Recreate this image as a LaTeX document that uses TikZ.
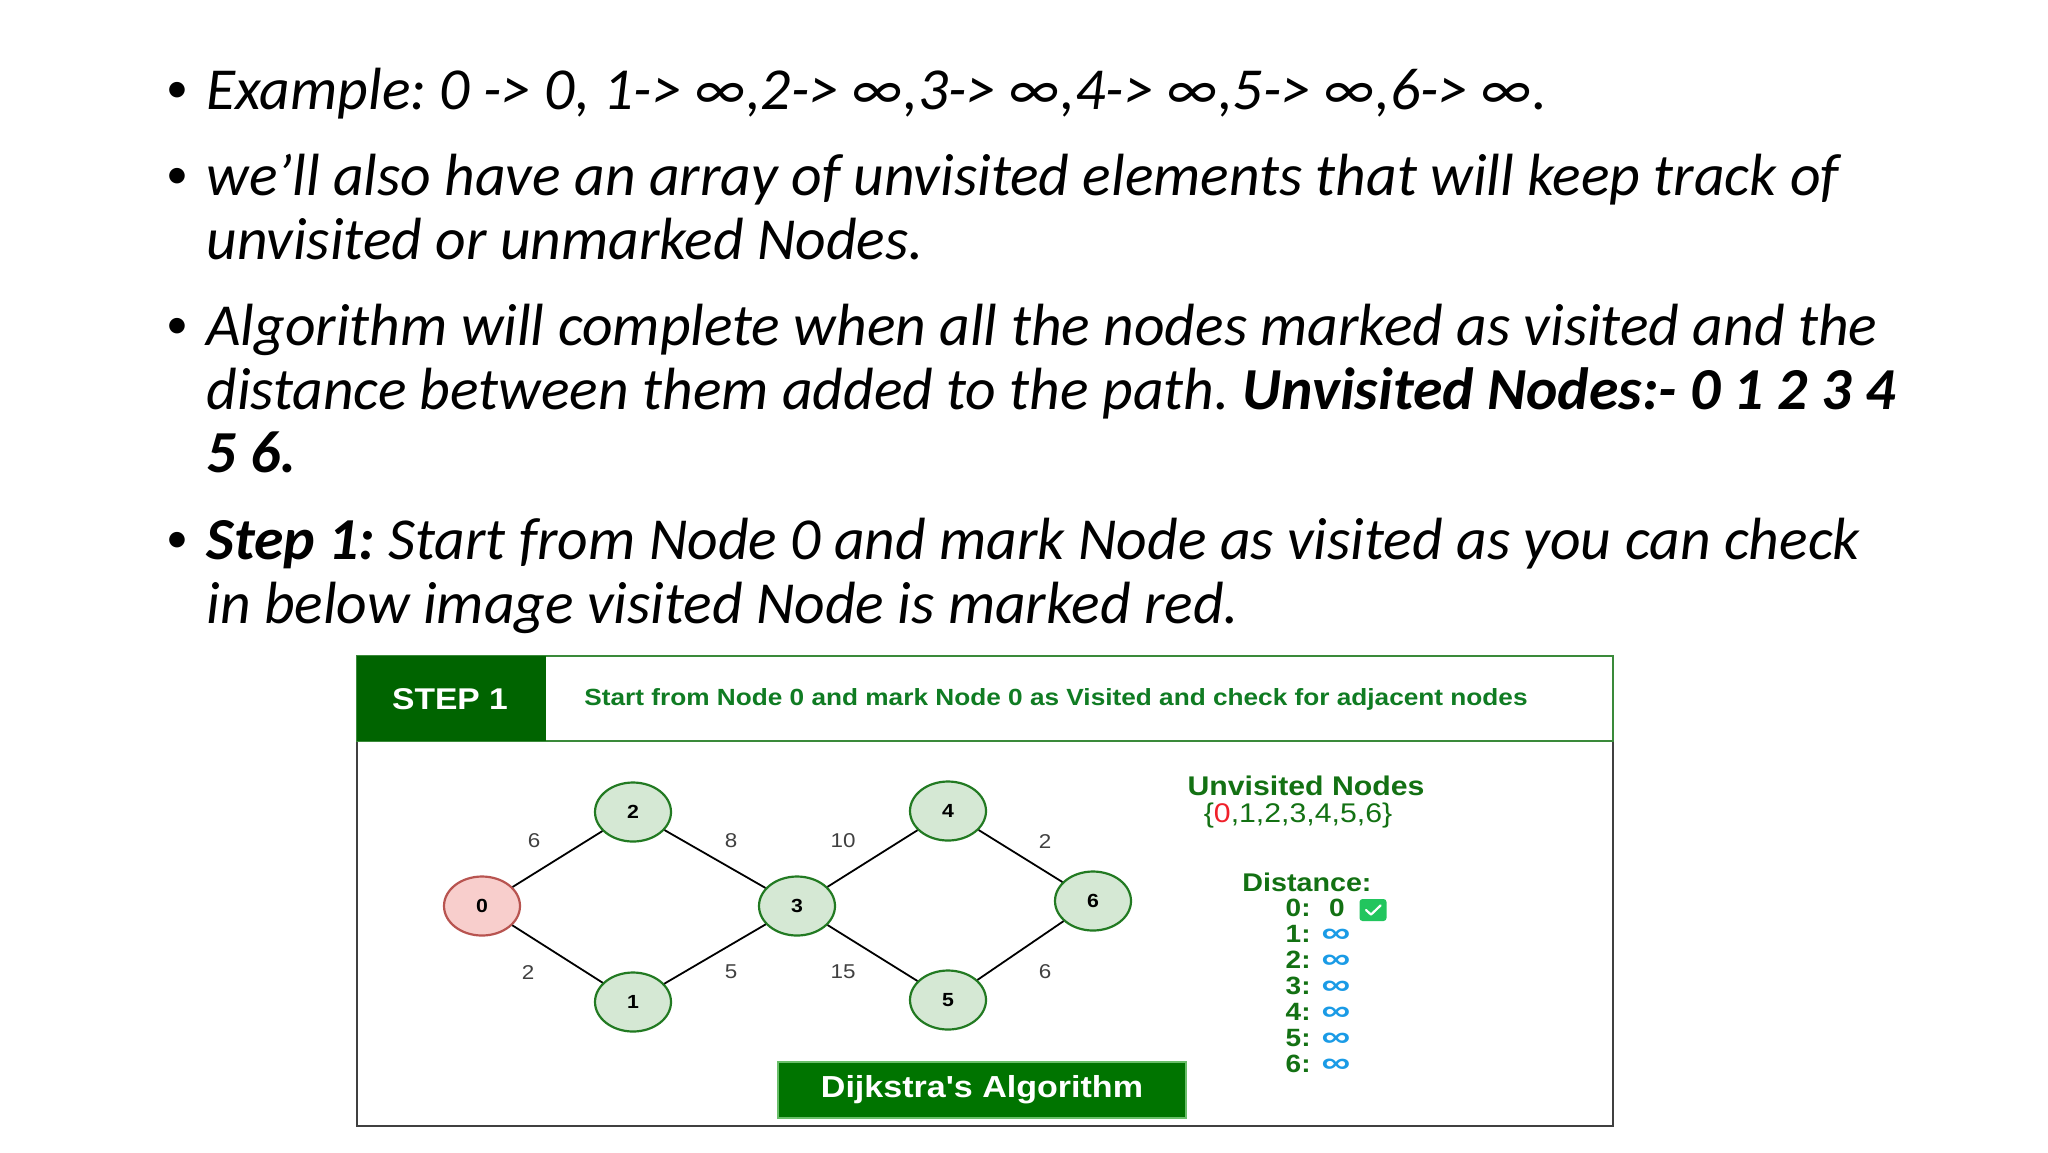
\documentclass[tikz,border=0pt]{standalone}
\usepackage{fontspec}
\usepackage{graphicx}
\setmainfont{Carlito}
\newfontfamily\arialf{Liberation Sans}
\usetikzlibrary{shapes.geometric}
\definecolor{hdrgreen}{HTML}{006400}
\definecolor{hdrtext}{HTML}{107C23}
\definecolor{hdrline}{HTML}{3A8A3A}
\definecolor{unvgreen}{HTML}{137113}
\definecolor{nodefill}{HTML}{D5E8D4}
\definecolor{nodeline}{HTML}{227A22}
\definecolor{redfill}{HTML}{F8CECC}
\definecolor{redline}{HTML}{B85450}
\definecolor{dijfill}{HTML}{007400}
\definecolor{dijline}{HTML}{6ABF6A}
\definecolor{checkgreen}{HTML}{22C55E}
\definecolor{infblue}{HTML}{1A9BE6}
\definecolor{lblgray}{HTML}{404040}
\definecolor{redtxt}{HTML}{F0202A}
\newcommand{\wtxt}[1]{\scalebox{1.12}[1]{#1}}
\frenchspacing
\begin{document}
\begin{tikzpicture}[x=0.5pt,y=-0.5pt,
  bodytext/.style={anchor=base west, inner sep=0pt, font=\fontsize{29.8}{34}\selectfont\itshape},
  bulletmark/.style={anchor=base, inner sep=0pt, font=\fontsize{22}{26}\selectfont},
  gnode/.style={ellipse, draw=nodeline, fill=nodefill, line width=1.1pt, minimum width=38pt, minimum height=29.5pt, inner sep=0pt, font=\arialf\bfseries\fontsize{9.5}{11}\selectfont},
  rnode/.style={gnode, draw=redline, fill=redfill},
  edgelbl/.style={inner sep=0pt, text=lblgray, font=\arialf\fontsize{10}{12}\selectfont},
  edge/.style={line width=0.9pt, black},
  distlbl/.style={anchor=base east, inner sep=0pt, text=unvgreen, font=\arialf\bfseries\fontsize{12.5}{14}\selectfont},
  distval/.style={anchor=base, inner sep=0pt, text=infblue, font=\arialf\bfseries\fontsize{13}{14}\selectfont}
]
\useasboundingbox (0,0) rectangle (2048,1152);
\fill[white] (0,0) rectangle (2048,1152);

% bullets
\node[bulletmark] (b1) at (177,102) {•};
\node[bulletmark] (b2) at (177,188) {•};
\node[bulletmark] (b3) at (177,338) {•};
\node[bulletmark] (b4) at (177,552) {•};

\node[bodytext] (l1) at (206,109) {Example: 0 -> 0, 1-> ∞,2-> ∞,3-> ∞,4-> ∞,5-> ∞,6-> ∞.};
\node[bodytext] (l2) at (206,195) {we’ll also have an array of unvisited elements that will keep track of};
\node[bodytext] (l3) at (206,259) {unvisited or unmarked Nodes.};
\node[bodytext] (l4) at (206,345) {Algorithm will complete when all the nodes marked as visited and the};
\node[bodytext] (l5) at (206,409) {distance between them added to the path. \textbf{Unvisited Nodes:- 0 1 2 3 4}};
\node[bodytext] (l6) at (206,472) {\textbf{5 6.}};
\node[bodytext] (l7) at (206,559) {\textbf{Step 1:} Start from Node 0 and mark Node as visited as you can check};
\node[bodytext] (l8) at (206,623) {in below image visited Node is marked red.};

% diagram frame
\draw[line width=1pt, black!75] (357,741) rectangle (1613,1126);
\draw[line width=1.2pt, hdrline] (357,656) rectangle (1613,741);
\fill[hdrgreen] (357,656) rectangle (546,741);
\node[text=white, font=\arialf\bfseries\fontsize{15}{17}\selectfont, inner sep=0pt] (step) at (450,699) {\wtxt{STEP 1}};
\node[anchor=west, text=hdrtext, font=\arialf\bfseries\fontsize{11.7}{14}\selectfont, inner sep=0pt] (hdr) at (584,699) {\wtxt{Start from Node 0 and mark Node 0 as Visited and check for adjacent nodes}};

% graph
\node[rnode] (n0) at (482,906) {\wtxt{0}};
\node[gnode] (n2) at (633,812) {\wtxt{2}};
\node[gnode] (n1) at (633,1002) {\wtxt{1}};
\node[gnode] (n3) at (797,906) {\wtxt{3}};
\node[gnode] (n4) at (948,811) {\wtxt{4}};
\node[gnode] (n5) at (948,1000) {\wtxt{5}};
\node[gnode] (n6) at (1093,901) {\wtxt{6}};

\draw[edge] (n0) -- (n2);
\draw[edge] (n0) -- (n1);
\draw[edge] (n2) -- (n3);
\draw[edge] (n1) -- (n3);
\draw[edge] (n3) -- (n4);
\draw[edge] (n3) -- (n5);
\draw[edge] (n4) -- (n6);
\draw[edge] (n5) -- (n6);

\node[edgelbl] (w02) at (534,841) {\wtxt{6}};
\node[edgelbl] (w23) at (731,841) {\wtxt{8}};
\node[edgelbl] (w34) at (843,841) {\wtxt{10}};
\node[edgelbl] (w46) at (1045,841) {\wtxt{2}};
\node[edgelbl] (w01) at (528,972) {\wtxt{2}};
\node[edgelbl] (w13) at (731,972) {\wtxt{5}};
\node[edgelbl] (w35) at (843,972) {\wtxt{15}};
\node[edgelbl] (w56) at (1045,972) {\wtxt{6}};

% unvisited
\node[text=unvgreen, font=\arialf\bfseries\fontsize{13.5}{15}\selectfont, inner sep=0pt] (unv) at (1306,786) {\wtxt{Unvisited Nodes}};
\node[text=unvgreen, font=\arialf\fontsize{13.5}{15}\selectfont, inner sep=0pt] (unvset) at (1298,816) {\wtxt{\{\textcolor{redtxt}{0},1,2,3,4,5,6\}}};

% distances
\node[text=unvgreen, font=\arialf\bfseries\fontsize{12.8}{15}\selectfont, inner sep=0pt] (dist) at (1307,882) {\wtxt{Distance:}};
\node[distlbl] (d0) at (1311,916) {\wtxt{0:}};
\node[anchor=base, inner sep=0pt, text=unvgreen, font=\arialf\bfseries\fontsize{12.5}{14}\selectfont] (v0) at (1337,916) {\wtxt{0}};
\node[fill=checkgreen, rounded corners=1.5pt, minimum width=13.5pt, minimum height=11pt, inner sep=0pt] (chk) at (1373,910) {};
\draw[white, line width=1.1pt, line cap=round, line join=round] ([xshift=-3.5pt,yshift=0pt]chk.center) -- ([xshift=-1pt,yshift=-2.3pt]chk.center) -- ([xshift=3.8pt,yshift=2.3pt]chk.center);
\foreach \i/\yy in {1/942,2/968,3/994,4/1020,5/1046,6/1072}{
  \node[distlbl] (d\i) at (1311,\yy) {\wtxt{\i:}};
  \node[distval] (v\i) at (1336,\yy) {\scalebox{1.55}[1.1]{∞}};
}

% title box
\node[fill=dijfill, draw=dijline, line width=0.8pt, minimum width=204pt, minimum height=28pt, inner sep=0pt, text=white, font=\arialf\bfseries\fontsize{15.2}{17}\selectfont] (dij) at (982,1090) {\wtxt{Dijkstra's Algorithm}};
\end{tikzpicture}
\end{document}
